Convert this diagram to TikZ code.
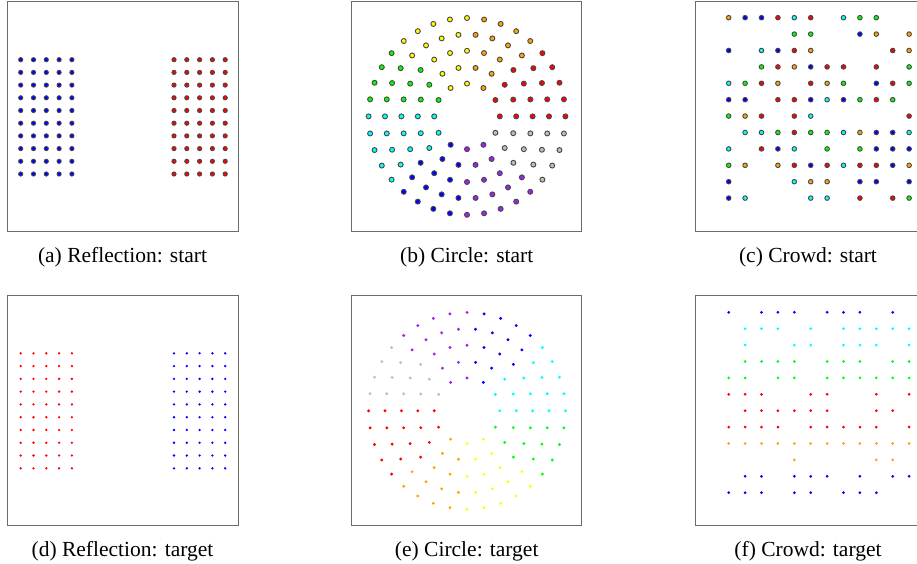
\documentclass[tikz,border=0pt]{standalone}
\usepackage{fontspec}
\setmainfont{Liberation Serif}
\definecolor{cRed}{RGB}{255,0,0}
\definecolor{cOrange}{RGB}{255,165,0}
\definecolor{cYellow}{RGB}{255,255,0}
\definecolor{cGreen}{RGB}{0,255,0}
\definecolor{cCyan}{RGB}{0,255,255}
\definecolor{cBlue}{RGB}{0,0,255}
\definecolor{cPurple}{RGB}{160,32,240}
\definecolor{cGrey}{RGB}{190,190,190}
\colorlet{sec0}{cRed}
\colorlet{sec1}{cOrange}
\colorlet{sec2}{cYellow}
\colorlet{sec3}{cGreen}
\colorlet{sec4}{cCyan}
\colorlet{sec5}{cBlue}
\colorlet{sec6}{cPurple}
\colorlet{sec7}{cGrey}
\begin{document}
\begin{tikzpicture}[x=1pt,y=-1pt,
  panel/.style={draw=black!58,line width=1pt},
  sdot/.style={draw=black!72,line width=0.9pt,fill=#1},
  tdot/.style={fill=#1},
  captext/.style={anchor=base,inner sep=0pt,font=\fontsize{21.5pt}{24pt}\selectfont}]
\useasboundingbox (0,0) rectangle (917,564);
\clip (0,0) rectangle (917,564);
\fill[white] (0,0) rectangle (917,564);
% panels
\draw[panel] (7.3,1.5) rectangle (238,231.7);
\draw[panel] (351.7,1.7) rectangle (581.7,231.7);
\draw[panel] (695.7,1.7) rectangle (925.7,231.7);
\draw[panel] (7.3,295.3) rectangle (238,525.7);
\draw[panel] (351.7,295.3) rectangle (581.7,525.7);
\draw[panel] (695.7,295.3) rectangle (925.7,525.7);
% reflection
\foreach \i in {0,...,4}{
  \foreach \j in {0,...,9}{
    \path[sdot=cBlue] ({20.7+12.8*\i},{59.7+12.7*\j}) circle[radius=2.1pt];
    \path[sdot=cRed] ({174+12.8*\i},{59.7+12.7*\j}) circle[radius=2.1pt];
    \path[tdot=cRed] ({20.7+12.8*\i},{353.3+12.78*\j}) circle[radius=1.3pt];
    \path[tdot=cBlue] ({174+12.8*\i},{353.3+12.78*\j}) circle[radius=1.3pt];
  }
}
% circle
\foreach \m in {2,...,6}{
  \pgfmathtruncatemacro\N{6*\m}
  \pgfmathtruncatemacro\Nm{\N-1}
  \foreach \k in {0,...,\Nm}{
    \pgfmathsetmacro\th{360*\k/\N}
    \pgfmathtruncatemacro\s{(8*\k+0.01)/\N}
    \ifnum\numexpr8*\k\relax=\N \def\s{0}\fi
    \pgfmathtruncatemacro\kk{mod(\k+\N/2,\N)}
    \pgfmathtruncatemacro\t{(8*\kk+0.01)/\N}
    \ifnum\numexpr8*\kk\relax=\N \def\t{0}\fi
    \path[sdot=sec\s] ({467+16.4*\m*cos(\th)},{116.4-16.4*\m*sin(\th)}) circle[radius=2.5pt];
    \path[tdot=sec\t] ({467+16.4*\m*cos(\th)},{410.8-16.4*\m*sin(\th)}) circle[radius=1.6pt];
  }
}
% crowd start
\foreach \c/\r/\col in {
 1/1/cOrange,2/1/cBlue,3/1/cBlue,4/1/cRed,5/1/cCyan,6/1/cRed,8/1/cCyan,9/1/cGreen,10/1/cGreen,
 5/2/cGreen,6/2/cGreen,9/2/cBlue,10/2/cOrange,12/2/cOrange,
 1/3/cBlue,3/3/cCyan,4/3/cBlue,5/3/cRed,6/3/cOrange,11/3/cRed,12/3/cOrange,
 3/4/cGreen,4/4/cRed,5/4/cOrange,6/4/cBlue,7/4/cRed,8/4/cRed,10/4/cRed,12/4/cGreen,
 1/5/cCyan,2/5/cGreen,3/5/cRed,4/5/cOrange,6/5/cRed,7/5/cOrange,8/5/cGreen,10/5/cBlue,11/5/cRed,12/5/cGreen,
 1/6/cBlue,2/6/cBlue,4/6/cRed,5/6/cRed,6/6/cBlue,7/6/cCyan,8/6/cBlue,9/6/cGreen,10/6/cRed,11/6/cGreen,
 1/7/cGreen,2/7/cOrange,3/7/cRed,5/7/cRed,6/7/cCyan,12/7/cRed,
 2/8/cCyan,3/8/cCyan,4/8/cGreen,5/8/cRed,6/8/cGreen,7/8/cGreen,8/8/cCyan,9/8/cOrange,10/8/cBlue,11/8/cBlue,12/8/cCyan,
 1/9/cCyan,3/9/cRed,4/9/cBlue,5/9/cCyan,7/9/cGreen,9/9/cGreen,10/9/cBlue,11/9/cBlue,12/9/cBlue,
 1/10/cGreen,2/10/cOrange,4/10/cOrange,5/10/cRed,6/10/cBlue,7/10/cRed,8/10/cCyan,9/10/cRed,10/10/cRed,11/10/cBlue,12/10/cOrange,
 1/11/cBlue,5/11/cCyan,6/11/cOrange,7/11/cOrange,9/11/cBlue,10/11/cBlue,12/11/cBlue,
 1/12/cBlue,2/12/cCyan,6/12/cCyan,7/12/cCyan,9/12/cRed,11/12/cRed,12/12/cGreen}{
  \path[sdot=\col] ({728.7+16.4*(\c-1)},{17.7+16.4*(\r-1)}) circle[radius=2.3pt];
}
% crowd target
\foreach \r/\col/\cols in {
 1/cBlue/{1,3,4,5,7,8,9,11},
 2/cCyan/{2,3,4,6,8,9,10,11,12},
 3/cCyan/{2,5,6,8,9,10,12},
 4/cGreen/{2,3,4,5,7,8,9,11,12},
 5/cGreen/{1,2,4,5,7,8,9,10,11,12},
 6/cRed/{1,2,3,6,7,10,12},
 7/cRed/{2,3,4,5,6,7,10,11},
 8/cRed/{1,2,3,4,6,7,8,9,10,12},
 9/cOrange/{1,2,3,4,5,6,7,8,9,10,11,12},
 10/cOrange/{5,10,11},
 11/cBlue/{2,3,5,6,7,9,11,12},
 12/cBlue/{1,2,3,5,6,8,9,10}}{
  \foreach \c in \cols {
    \path[tdot=\col] ({728.7+16.4*(\c-1)},{312.3+16.4*(\r-1)}) circle[radius=1.5pt];
  }
}
% captions
\node[captext] (capa) at (122.5,262) {(a) Reflection: start};
\node[captext] (capb) at (466.7,262) {(b) Circle: start};
\node[captext] (capc) at (808,262) {(c) Crowd: start};
\node[captext] (capd) at (122.5,556) {(d) Reflection: target};
\node[captext] (cape) at (466.7,556) {(e) Circle: target};
\node[captext] (capf) at (808,556) {(f) Crowd: target};
\end{tikzpicture}
\end{document}
